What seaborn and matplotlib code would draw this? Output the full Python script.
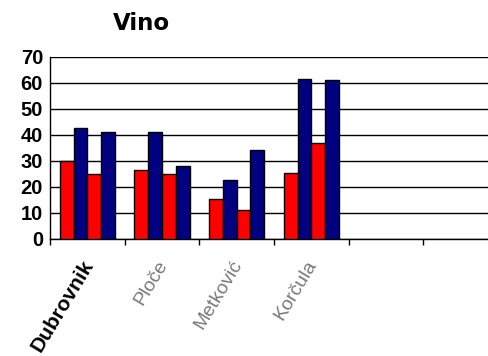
import matplotlib
matplotlib.use("Agg")
import matplotlib.pyplot as plt
import seaborn as sns
import pandas as pd

# Wine data per town, four series (alternating red / navy)
cities = ["Dubrovnik", "Ploče", "Metković", "Korčula"]
series_names = ["S1", "S2", "S3", "S4"]
s1 = [30.0, 26.4, 15.5, 25.5]
s2 = [42.5, 41.0, 22.5, 61.5]
s3 = [24.8, 24.8, 11.0, 37.0]
s4 = [41.0, 28.0, 34.0, 61.0]
yticks = [0, 10, 20, 30, 40, 50, 60, 70]
colors = ["#FF0000", "#000080", "#FF0000", "#000080"]

rows = []
for name, vals in zip(series_names, [s1, s2, s3, s4]):
    for c, v in zip(cities, vals):
        rows.append({"city": c, "series": name, "value": v})
df = pd.DataFrame(rows)

sns.set_theme(style="white")
plt.rcParams["font.family"] = ["Liberation Sans", "DejaVu Sans"]

fig = plt.figure(figsize=(4.88, 3.56), dpi=100)
ax = fig.add_axes([50 / 488, 117 / 356, 448 / 488, 182.3 / 356])

sns.barplot(data=df, x="city", y="value", hue="series", order=cities,
            hue_order=series_names, palette=colors, width=0.74,
            edgecolor="black", linewidth=1.0, saturation=1, ax=ax,
            legend=False, zorder=3)

ax.set_xlim(-0.5, 5.5)
ax.set_ylim(0, 70)
ax.set_yticks(yticks)
ax.set_yticklabels([str(t) for t in yticks], fontsize=14.5, fontweight="bold",
                   color="black")
ax.yaxis.grid(True, color="black", linewidth=1.0, zorder=0)
ax.set_axisbelow(True)
ax.tick_params(axis="y", length=0, pad=5)

# ticks on category boundaries, labels drawn separately
ax.set_xticks([i - 0.5 for i in range(7)])
ax.set_xticklabels([])
ax.tick_params(axis="x", direction="out", length=4, width=1, color="black",
               bottom=True)
ax.set_xlabel("")
ax.set_ylabel("")

for s in ["top", "right"]:
    ax.spines[s].set_visible(False)
for s in ["left", "bottom"]:
    ax.spines[s].set_visible(True)
    ax.spines[s].set_color("black")
    ax.spines[s].set_linewidth(1.0)

for i, c in enumerate(cities):
    bold = i == 0
    ax.text(i + 0.02, -8.8, c, rotation=59, rotation_mode="anchor", ha="right",
            va="center", fontsize=15 if bold else 14,
            fontweight="bold" if bold else "normal",
            color="black" if bold else "#7a7a7a", clip_on=False)

fig.text(141 / 488, 1 - 23 / 356, "Vino", ha="center", va="center",
         fontsize=16.5, fontweight="bold", family="DejaVu Sans", color="black")

fig.savefig("out.png", dpi=100, facecolor="white")
